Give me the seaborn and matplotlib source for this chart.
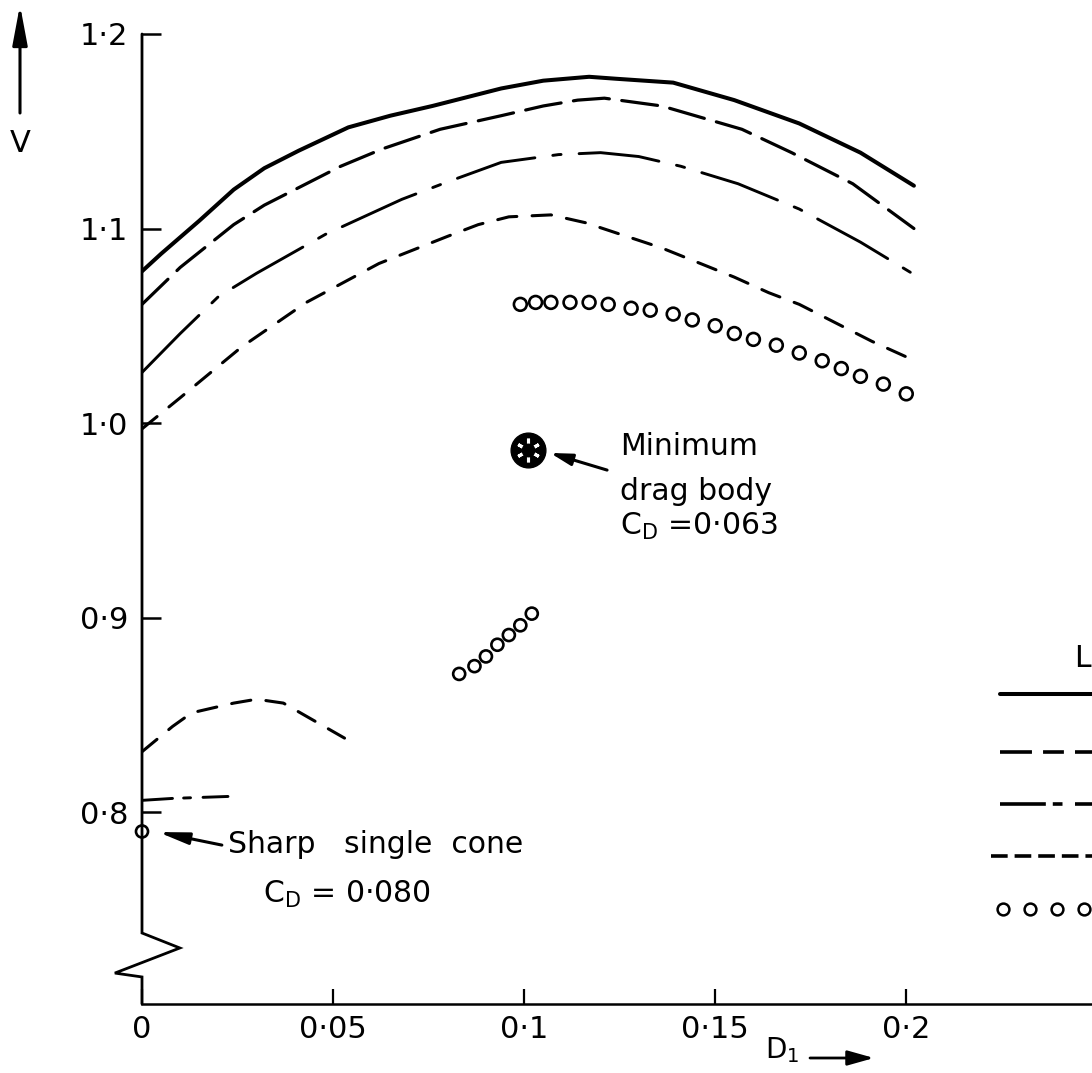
import matplotlib
matplotlib.use("Agg")
import matplotlib.pyplot as plt
import seaborn as sns

# ---- axis ticks ---------------------------------------------------------
x_ticks = [0.0, 0.05, 0.10, 0.15, 0.20]
x_ticklabels = ["0", "0·05", "0·1", "0·15", "0·2"]
y_ticks = [0.8, 0.9, 1.0, 1.1, 1.2]
y_ticklabels = ["0·8", "0·9", "1·0", "1·1", "1·2"]

# ---- curves of V against D1 -------------------------------------------
solid_d = [0.0, 0.005, 0.015, 0.024, 0.032, 0.041, 0.054, 0.065, 0.076, 0.094, 0.105,
           0.117, 0.124, 0.139, 0.155, 0.172, 0.188, 0.202]
solid_v = [1.078, 1.087, 1.104, 1.120, 1.131, 1.140, 1.152, 1.158, 1.163, 1.172, 1.176,
           1.178, 1.177, 1.175, 1.166, 1.154, 1.139, 1.122]

long_dash_d = [0.0, 0.010, 0.024, 0.032, 0.041, 0.052, 0.063, 0.078, 0.094, 0.105, 0.114,
               0.121, 0.136, 0.157, 0.170, 0.186, 0.202]
long_dash_v = [1.061, 1.080, 1.102, 1.112, 1.121, 1.132, 1.141, 1.151, 1.158, 1.163, 1.166,
               1.167, 1.163, 1.151, 1.139, 1.123, 1.100]

dash_dot_d = [0.0, 0.010, 0.020, 0.030, 0.048, 0.058, 0.068, 0.080, 0.094, 0.109, 0.120,
              0.130, 0.141, 0.156, 0.172, 0.188, 0.204]
dash_dot_v = [1.026, 1.046, 1.065, 1.077, 1.097, 1.106, 1.115, 1.124, 1.134, 1.138, 1.139,
              1.137, 1.132, 1.123, 1.110, 1.093, 1.074]

short_dash_d = [0.0, 0.010, 0.026, 0.043, 0.062, 0.080, 0.088, 0.096, 0.107, 0.116, 0.136,
                0.155, 0.164, 0.172, 0.191, 0.200]
short_dash_v = [0.997, 1.013, 1.039, 1.062, 1.082, 1.096, 1.102, 1.106, 1.107, 1.103, 1.090,
                1.075, 1.067, 1.061, 1.042, 1.034]

# lower branches near D1 = 0
low_dash_d = [0.0, 0.008, 0.013, 0.024, 0.030, 0.037, 0.045, 0.053]
low_dash_v = [0.831, 0.844, 0.851, 0.856, 0.858, 0.856, 0.847, 0.838]

low_dash_dot_d = [0.0, 0.008, 0.0225]
low_dash_dot_v = [0.806, 0.807, 0.808]

# ---- open-circle series ------------------------------------------------
circ_d = [0.099, 0.103, 0.107, 0.112, 0.117, 0.122, 0.128, 0.133, 0.139, 0.144,
          0.150, 0.155, 0.160, 0.166, 0.172, 0.178, 0.183, 0.188, 0.194, 0.200]
circ_v = [1.061, 1.062, 1.062, 1.062, 1.062, 1.061, 1.059, 1.058, 1.056, 1.053,
          1.050, 1.046, 1.043, 1.040, 1.036, 1.032, 1.028, 1.024, 1.020, 1.015]

circ_low_d = [0.083, 0.087, 0.090, 0.093, 0.096, 0.099, 0.102]
circ_low_v = [0.871, 0.875, 0.880, 0.886, 0.891, 0.896, 0.902]

# ---- single reference bodies ------------------------------------------
min_drag_d, min_drag_v = [0.101], [0.986]
cone_d, cone_v = [0.0], [0.790]
min_drag_text = ["Minimum", "drag body", "C$_D$ =0·063"]
cone_text = ["Sharp   single  cone", "C$_D$ = 0·080"]

# ---- style --------------------------------------------------------------
sns.set_style("white")
plt.rcParams["font.family"] = ["DejaVu Sans"]
plt.rcParams["mathtext.default"] = "regular"
plt.rcParams["lines.scale_dashes"] = False

INK = "black"
LONG_DASH = (0, (26, 9))
DASH_DOT = (0, (58, 13, 6, 13))
SHORT_DASH = (0, (14, 11))

W, H = 1092, 1073
fig = plt.figure(figsize=(W / 100, H / 100), dpi=100)
ax = fig.add_axes([142 / W, 1 - 1004 / H, (W - 142) / W, (1004 - 34) / H])
ax.set_xlim(0, 0.2486)
ax.set_ylim(0.7013, 1.2)

def curve(xs, ys, ls, lw):
    sns.lineplot(x=xs, y=ys, ax=ax, color=INK, lw=lw, estimator=None, sort=False)
    ln = ax.lines[-1]
    ln.set_linestyle(ls)
    ln.set_dash_capstyle("round")
    ln.set_solid_capstyle("round")
    ln.set_solid_joinstyle("round")
    return ln

curve(solid_d, solid_v, "-", 2.9)
curve(long_dash_d, long_dash_v, LONG_DASH, 2.3)
curve(dash_dot_d, dash_dot_v, DASH_DOT, 2.1)
curve(short_dash_d, short_dash_v, SHORT_DASH, 2.2)
curve(low_dash_d, low_dash_v, SHORT_DASH, 2.2)
curve(low_dash_dot_d, low_dash_dot_v, (0, (22, 8, 5, 9)), 2.1)

def open_circles(xs, ys, size):
    sns.scatterplot(x=xs, y=ys, ax=ax, s=size, marker="o", color=INK, linewidth=1.9,
                    edgecolor=INK, zorder=4)
    ax.collections[-1].set_facecolor("none")
    ax.collections[-1].set_clip_on(False)

open_circles(circ_d, circ_v, 85)
open_circles(circ_low_d, circ_low_v, 75)
open_circles(cone_d, cone_v, 75)

# minimum drag body symbol: filled disc with light cross-hatching
ax.plot(min_drag_d, min_drag_v, "o", ms=25, color=INK, zorder=5)
ax.plot(min_drag_d, min_drag_v, marker=(6, 2, 0), ms=17, mew=2.2, color="white", zorder=6)
ax.plot(min_drag_d, min_drag_v, "o", ms=9, color=INK, zorder=7)

# ---- annotations --------------------------------------------------------
txt = dict(fontsize=21.5, color=INK, ha="left", va="baseline")
ax.text(0.1251, 0.9835, min_drag_text[0], **txt)
ax.text(0.1251, 0.9604, min_drag_text[1], **txt)
ax.text(0.1251, 0.9424, min_drag_text[2], **txt)
ax.annotate("", xy=(0.1068, 0.9846), xytext=(0.1217, 0.9758),
            arrowprops=dict(arrowstyle="-|>,head_length=1.3,head_width=0.35",
                            color=INK, lw=2.2, shrinkA=0, shrinkB=0))

ax.text(0.0225, 0.7789, cone_text[0], **txt)
ax.text(0.0317, 0.7532, cone_text[1], **txt)
ax.annotate("", xy=(0.0042, 0.7897), xytext=(0.0209, 0.7830),
            arrowprops=dict(arrowstyle="-|>,head_length=1.8,head_width=0.35",
                            color=INK, lw=2.2, shrinkA=0, shrinkB=0))

# ---- key for the line styles (runs off the right edge) -----------------
key_x = [0.2245, 0.2600]
ax.text(0.2440, 0.879, "L", fontsize=21.5, color=INK, ha="left", va="center")
ax.plot(key_x, [0.8607] * 2, color=INK, lw=2.9, ls="-")
ax.plot(key_x, [0.8308] * 2, color=INK, lw=2.6, ls=(0, (23, 8, 15, 8)))
ax.plot(key_x, [0.8041] * 2, color=INK, lw=2.6, ls=(0, (33, 5, 7, 9)))
ax.plot([0.2221, 0.2600], [0.7774] * 2, color=INK, lw=2.6, ls=(0, (12, 5)))
ax.plot([0.2253, 0.2324, 0.2395, 0.2465], [0.7501] * 4, "o", ms=8.5, mfc="none",
        mec=INK, mew=1.8, clip_on=False)

# ---- axes: ticks, broken left axis --------------------------------------
ax.set_xticks(x_ticks)
ax.set_xticklabels(x_ticklabels)
ax.set_yticks(y_ticks)
ax.set_yticklabels(y_ticklabels)
ax.tick_params(axis="x", bottom=True, direction="in", length=11, width=1.6, pad=8,
               labelsize=22, colors=INK)
ax.tick_params(axis="y", left=True, direction="in", length=14, width=1.8, pad=10,
               labelsize=22, colors=INK)
for side in ("top", "right", "left"):
    ax.spines[side].set_visible(False)
ax.spines["bottom"].set_linewidth(1.8)
ax.spines["bottom"].set_color(INK)

ax.plot([0, 0, 0.0099, -0.0071, 0, 0], [1.2, 0.7378, 0.7301, 0.7172, 0.7152, 0.7013],
        color=INK, lw=2.0, clip_on=False, solid_joinstyle="miter")

# ---- axis titles with arrows -------------------------------------------
fig.text(20 / W, 1 - 143 / H, "V", fontsize=22, ha="center", va="center", color=INK)
ax.annotate("", xy=(20, H - 5), xytext=(20, H - 113), xycoords="figure pixels",
            textcoords="figure pixels",
            arrowprops=dict(arrowstyle="-|>,head_length=2.4,head_width=0.45",
                            color=INK, lw=2.2, shrinkA=0, shrinkB=0))

fig.text(765 / W, 1 - 1058 / H, "D$_1$", fontsize=20, ha="left", va="baseline", color=INK)
ax.annotate("", xy=(874, H - 1058), xytext=(810, H - 1058), xycoords="figure pixels",
            textcoords="figure pixels",
            arrowprops=dict(arrowstyle="-|>,head_length=1.6,head_width=0.45",
                            color=INK, lw=2.0, shrinkA=0, shrinkB=0))

fig.savefig("out.png", dpi=100, facecolor="white")
